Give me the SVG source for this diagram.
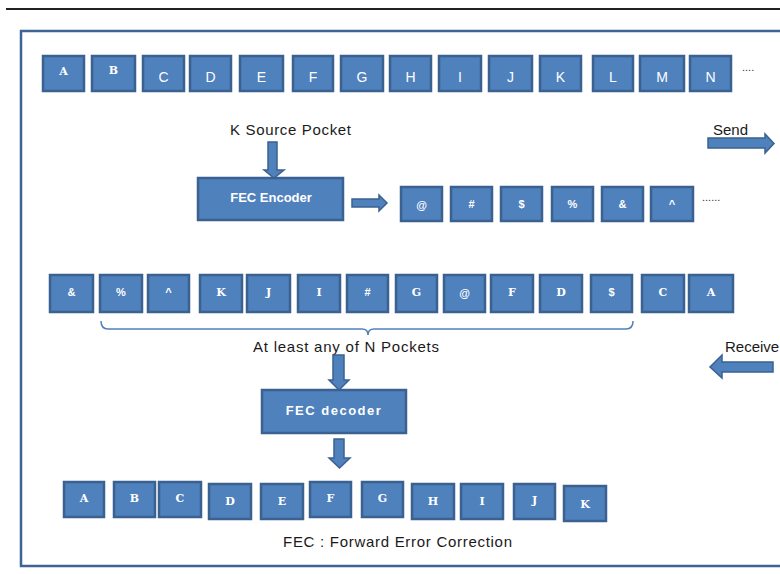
<svg xmlns="http://www.w3.org/2000/svg" width="780" height="574" viewBox="0 0 780 574">
<defs>
<style>
.box{fill:#4F81BD;stroke:#3A6190;stroke-width:2.5}
.arr{fill:#4F81BD;stroke:#3A6190;stroke-width:1.5}
.ls{fill:#fff;font-family:"Liberation Sans",Arial,sans-serif;font-size:14px;text-anchor:middle}
.sl{fill:#fff;font-family:"DejaVu Serif","Liberation Serif",serif;font-weight:bold;font-size:11px;text-anchor:middle}
.sym{fill:#fff;font-family:"Liberation Sans",Arial,sans-serif;font-weight:bold;font-size:11px;text-anchor:middle}
.lbl{fill:#1a1a1a;font-family:"Liberation Sans",Arial,sans-serif;font-size:15px}
.btn{fill:#fff;font-family:"Liberation Sans",Arial,sans-serif;font-weight:bold;font-size:13px;text-anchor:middle}
.dots{fill:#333;font-family:"Liberation Sans",Arial,sans-serif;font-size:11px}
</style>
</defs>
<rect width="780" height="574" fill="#fff"/>
<line x1="6" y1="9" x2="780" y2="9" stroke="#222" stroke-width="2"/>
<path d="M782 31 H21 V566 H782" fill="none" stroke="#3C6494" stroke-width="2.5"/>

<!-- Row 1 source packets -->
<g id="row1">
<g id="r1-A"><rect class="box" x="43" y="56" width="41" height="35"/><text class="sl" x="63.5" y="75">A</text></g>
<g id="r1-B"><rect class="box" x="92" y="56" width="43" height="35"/><text class="sl" x="113.5" y="74">B</text></g>
<g id="r1-C"><rect class="box" x="143" y="56" width="41" height="35"/><text class="ls" x="163.5" y="82">C</text></g>
<g id="r1-D"><rect class="box" x="190" y="56" width="41" height="35"/><text class="ls" x="210.5" y="82">D</text></g>
<g id="r1-E"><rect class="box" x="240" y="56" width="43" height="35"/><text class="ls" x="261.5" y="82">E</text></g>
<g id="r1-F"><rect class="box" x="293" y="56" width="40" height="35"/><text class="ls" x="313" y="82">F</text></g>
<g id="r1-G"><rect class="box" x="341" y="56" width="42" height="35"/><text class="ls" x="362" y="82">G</text></g>
<g id="r1-H"><rect class="box" x="390" y="56" width="41" height="35"/><text class="ls" x="410.5" y="82">H</text></g>
<g id="r1-I"><rect class="box" x="439" y="56" width="42" height="35"/><text class="ls" x="460" y="82">I</text></g>
<g id="r1-J"><rect class="box" x="489" y="56" width="43" height="35"/><text class="ls" x="510.5" y="82">J</text></g>
<g id="r1-K"><rect class="box" x="540" y="56" width="41" height="35"/><text class="ls" x="560.5" y="82">K</text></g>
<g id="r1-L"><rect class="box" x="593" y="56" width="40" height="35"/><text class="ls" x="613" y="82">L</text></g>
<g id="r1-M"><rect class="box" x="640" y="56" width="44" height="35"/><text class="ls" x="662" y="82">M</text></g>
<g id="r1-N"><rect class="box" x="690" y="56" width="41" height="35"/><text class="ls" x="710.5" y="82">N</text></g>
<text class="dots" x="742" y="71">....</text>
</g>

<text id="lbl-k" class="lbl" x="230" y="135" textLength="121">K Source Pocket</text>

<g id="encoder"><rect class="box" x="198" y="178" width="145" height="42"/><text class="btn" x="271" y="202">FEC Encoder</text></g>

<!-- Row 2 encoded packets -->
<g id="row2">
<g id="r2-at"><rect class="box" x="401" y="187" width="41" height="34"/><text class="sym" x="421.5" y="209">@</text></g>
<g id="r2-hash"><rect class="box" x="451" y="187" width="41" height="34"/><text class="sym" x="471.5" y="208">#</text></g>
<g id="r2-dollar"><rect class="box" x="501" y="187" width="41" height="34"/><text class="sym" x="521.5" y="208">$</text></g>
<g id="r2-pct"><rect class="box" x="552" y="187" width="41" height="34"/><text class="sym" x="572.5" y="208">%</text></g>
<g id="r2-amp"><rect class="box" x="602" y="187" width="41" height="34"/><text class="sym" x="622.5" y="208">&amp;</text></g>
<g id="r2-caret"><rect class="box" x="651" y="187" width="42" height="34"/><text class="sym" x="672" y="208">^</text></g>
<text class="dots" x="702" y="201">......</text>
</g>

<text id="lbl-send" class="lbl" x="713" y="135">Send</text>

<!-- Row 3 received packets -->
<g id="row3">
<g id="r3-amp"><rect class="box" x="50" y="275" width="43" height="37"/><text class="sym" x="71.5" y="296">&amp;</text></g>
<g id="r3-pct"><rect class="box" x="100" y="275" width="42" height="37"/><text class="sym" x="121" y="296">%</text></g>
<g id="r3-caret"><rect class="box" x="148" y="275" width="41" height="37"/><text class="sym" x="168.5" y="296">^</text></g>
<g id="r3-K"><rect class="box" x="200" y="275" width="42" height="37"/><text class="sl" x="221" y="296">K</text></g>
<g id="r3-J"><rect class="box" x="247" y="275" width="43" height="37"/><text class="sl" x="268.5" y="296">J</text></g>
<g id="r3-I"><rect class="box" x="298" y="275" width="42" height="37"/><text class="sl" x="319" y="296">I</text></g>
<g id="r3-hash"><rect class="box" x="347" y="275" width="41" height="37"/><text class="sym" x="367.5" y="296">#</text></g>
<g id="r3-G"><rect class="box" x="396" y="275" width="41" height="37"/><text class="sl" x="416.5" y="296">G</text></g>
<g id="r3-at"><rect class="box" x="444" y="275" width="41" height="37"/><text class="sym" x="464.5" y="297">@</text></g>
<g id="r3-F"><rect class="box" x="491" y="275" width="42" height="37"/><text class="sl" x="512" y="296">F</text></g>
<g id="r3-D"><rect class="box" x="540" y="275" width="42" height="37"/><text class="sl" x="561" y="296">D</text></g>
<g id="r3-dollar"><rect class="box" x="591" y="275" width="41" height="37"/><text class="sym" x="611.5" y="296">$</text></g>
<g id="r3-C"><rect class="box" x="642" y="275" width="42" height="37"/><text class="sl" x="663" y="296">C</text></g>
<g id="r3-A"><rect class="box" x="689" y="275" width="44" height="37"/><text class="sl" x="711" y="296">A</text></g>
</g>

<text id="lbl-n" class="lbl" x="253" y="352" textLength="186">At least any of N Pockets</text>
<text id="lbl-recv" class="lbl" x="725" y="352">Receive</text>

<g id="decoder"><rect class="box" x="262" y="390" width="144" height="43"/><text class="btn" x="334" y="415" letter-spacing="1.5">FEC decoder</text></g>

<!-- Row 4 decoded packets -->
<g id="row4">
<g id="r4-A"><rect class="box" x="64" y="482" width="40" height="35"/><text class="sl" x="84" y="502">A</text></g>
<g id="r4-B"><rect class="box" x="114" y="482" width="41" height="35"/><text class="sl" x="134.5" y="502">B</text></g>
<g id="r4-C"><rect class="box" x="159" y="482" width="42" height="35"/><text class="sl" x="180" y="502">C</text></g>
<g id="r4-D"><rect class="box" x="209" y="484" width="42" height="35"/><text class="sl" x="230" y="505">D</text></g>
<g id="r4-E"><rect class="box" x="261" y="484" width="42" height="35"/><text class="sl" x="282" y="505">E</text></g>
<g id="r4-F"><rect class="box" x="310" y="482" width="41" height="35"/><text class="sl" x="330.5" y="502">F</text></g>
<g id="r4-G"><rect class="box" x="362" y="482" width="41" height="35"/><text class="sl" x="382.5" y="502">G</text></g>
<g id="r4-H"><rect class="box" x="412" y="484" width="42" height="35"/><text class="sl" x="433" y="505">H</text></g>
<g id="r4-I"><rect class="box" x="461" y="484" width="42" height="35"/><text class="sl" x="482" y="505">I</text></g>
<g id="r4-J"><rect class="box" x="514" y="484" width="41" height="35"/><text class="sl" x="534.5" y="504">J</text></g>
<g id="r4-K"><rect class="box" x="564" y="486" width="42" height="35"/><text class="sl" x="585" y="508">K</text></g>
</g>

<text id="lbl-fec" class="lbl" x="283" y="547" textLength="229">FEC : Forward Error Correction</text>

<!-- Connectors -->
<g id="connectors">
<path class="arr" d="M268 142 H277 V170 H284 L274 178 L264 170 H268 Z"/>
<path class="arr" d="M352 199 H379 V195 L387 203 L379 211 V207 H352 Z"/>
<path class="arr" d="M708 138 H765 V134 L774 143.5 L765 153 V148 H708 Z"/>
<path class="arr" d="M773 362 H722 V355 L710 367 L722 378 V372 H773 Z"/>
<path class="arr" d="M333 355 H344 V380 H349 L339 390 L329 380 H333 Z"/>
<path class="arr" d="M334 439 H344 V458 H350 L339.5 468 L329 458 H334 Z"/>
<path d="M101 321 Q101 329 108 329 H362 Q368 329 368 335 Q368 329 374 329 H626 Q633 329 633 321" fill="none" stroke="#4F81BD" stroke-width="1.5"/>
</g>
</svg>
